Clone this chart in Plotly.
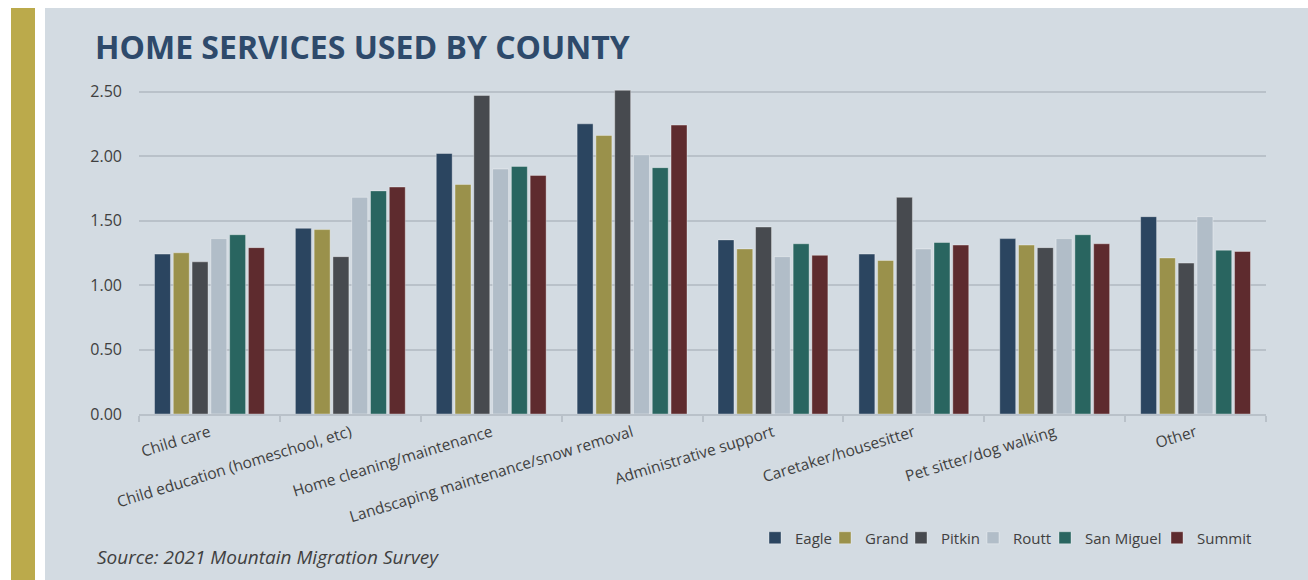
import plotly.graph_objects as go

# Home services used, average score by county
services = [
    'Child care',
    'Child education (homeschool, etc)',
    'Home cleaning/maintenance',
    'Landscaping maintenance/snow removal',
    'Administrative support',
    'Caretaker/housesitter',
    'Pet sitter/dog walking',
    'Other',
]

eagle = [1.24, 1.44, 2.02, 2.25, 1.35, 1.24, 1.36, 1.53]
grand = [1.25, 1.43, 1.78, 2.16, 1.28, 1.19, 1.31, 1.21]
pitkin = [1.18, 1.22, 2.47, 2.51, 1.45, 1.68, 1.29, 1.17]
routt = [1.36, 1.68, 1.90, 2.01, 1.22, 1.28, 1.36, 1.53]
san_miguel = [1.39, 1.73, 1.92, 1.91, 1.32, 1.33, 1.39, 1.27]
summit = [1.29, 1.76, 1.85, 2.24, 1.23, 1.31, 1.32, 1.26]

y_ticks = [0, 0.5, 1.0, 1.5, 2.0, 2.5]

counties = [
    ('Eagle', eagle, '#2B4560'),
    ('Grand', grand, '#9A914B'),
    ('Pitkin', pitkin, '#474A4F'),
    ('Routt', routt, '#B1BDC8'),
    ('San Miguel', san_miguel, '#296560'),
    ('Summit', summit, '#5E2B2E'),
]

W, H = 1308, 580
L, R, T, B = 139, 42, 89, 166
pw, ph = W - L - R, H - T - B


def px_x(p):
    return (p - L) / pw


def px_y(p):
    return (H - B - p) / ph


# left edge (px) of each legend swatch, one small legend per county
legend_left = [772, 842, 918, 990, 1062, 1174]

fig = go.Figure()
legends = {}
for i, (name, vals, color) in enumerate(counties):
    key = 'legend' if i == 0 else 'legend%d' % (i + 1)
    fig.add_trace(go.Bar(
        x=services,
        y=vals,
        name=name,
        legend=key,
        marker=dict(color=color, line=dict(color='rgba(255,255,255,0.35)', width=1)),
    ))
    legends[key] = dict(
        orientation='h',
        x=px_x(legend_left[i] - 17), xanchor='left',
        y=px_y(538), yanchor='middle',
        font=dict(size=15, color='#404040'),
        bgcolor='rgba(0,0,0,0)',
        itemwidth=30,
    )

panel = '#D3DBE2'
fig.update_layout(
    width=W,
    height=H,
    margin=dict(l=L, r=R, t=T, b=B),
    paper_bgcolor='white',
    plot_bgcolor=panel,
    barmode='group',
    bargap=0.2,
    bargroupgap=0.15,
    font=dict(family='Open Sans', color='#404040', size=14),
    showlegend=True,
    shapes=[
        dict(type='rect', xref='paper', yref='paper', layer='below',
             x0=px_x(45), x1=px_x(1308), y0=px_y(8), y1=px_y(580),
             fillcolor=panel, line=dict(width=0)),
        dict(type='rect', xref='paper', yref='paper', layer='below',
             x0=px_x(11), x1=px_x(35), y0=px_y(8), y1=px_y(580),
             fillcolor='#BBAA4B', line=dict(width=0)),
    ],
    annotations=[
        dict(text='<b>HOME SERVICES USED BY COUNTY</b>', xref='paper', yref='paper',
             x=px_x(93), y=px_y(46), xanchor='left', yanchor='middle', showarrow=False,
             font=dict(size=32, color='#2E4A6B', family='Open Sans')),
        dict(text='<i>Source: 2021 Mountain Migration Survey</i>', xref='paper', yref='paper',
             x=px_x(95), y=px_y(557), xanchor='left', yanchor='middle', showarrow=False,
             font=dict(size=19, color='#404040', family='Open Sans')),
    ],
)
fig.update_layout(**legends)

fig.update_yaxes(
    range=[0, 2.52],
    tickvals=y_ticks,
    tickformat='.2f',
    showgrid=True,
    gridcolor='#B9C1C9',
    gridwidth=1.5,
    zeroline=False,
    showline=False,
    ticks='',
    ticklabelstandoff=16,
    tickfont=dict(size=16, color='#404040'),
)

fig.update_xaxes(
    tickangle=-17,
    showline=True,
    linecolor='#B9C1C9',
    linewidth=1.5,
    ticks='outside',
    tickson='boundaries',
    ticklen=6,
    tickcolor='#B9C1C9',
    tickwidth=1.5,
    ticklabelshift=0,
    ticklabelstandoff=2,
    tickfont=dict(size=15.5, color='#404040'),
)

# drop the default page margin so the figure sits at the window origin
fig.write_html('out.html', config={'displayModeBar': False},
               post_script="document.body.style.margin='0';")
